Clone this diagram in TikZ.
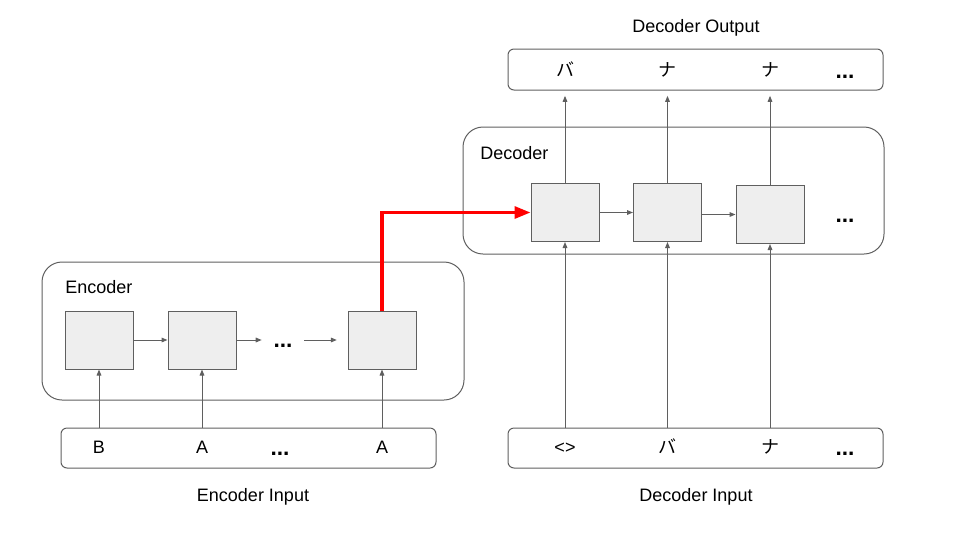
\documentclass[tikz,border=0pt]{standalone}
\usepackage{fontspec}
\setmainfont{Liberation Sans}
\newfontfamily\jp{Noto Sans CJK JP}
\usetikzlibrary{arrows.meta}
\definecolor{lin}{HTML}{5F5F5F}
\definecolor{cellfill}{HTML}{EEEEEE}
\definecolor{redc}{HTML}{FF0000}
\begin{document}
\begin{tikzpicture}[x=0.75pt,y=-0.75pt,
  font=\fontsize{13.5}{15}\selectfont,
  dotsf/.style={font=\fontsize{17}{18}\selectfont\bfseries},
  outer/.style={draw=lin, line width=0.75pt, rounded corners=15pt, minimum width=#1, inner sep=0pt},
  iobox/.style={draw=lin, line width=0.75pt, rounded corners=4.5pt, minimum width=281.25pt, inner sep=0pt},
  cell/.style={draw=lin, fill=cellfill, line width=0.75pt, minimum width=51pt, minimum height=43.5pt, inner sep=0pt},
  lbl/.style={anchor=base, text height=1.6ex, text depth=0.3ex, inner sep=0pt},
  garr/.style={draw=lin, line width=0.75pt, -{Triangle[length=4.5pt,width=3.5pt]}},
  rarr/.style={draw=redc, line width=2.4pt, -{Triangle[length=12pt,width=9pt]}}]
\useasboundingbox (0,0) rectangle (960,540);

% Encoder
\node[outer=316.5pt, minimum height=103.5pt] (enc) at (253,331) {};
\node[anchor=west, inner sep=0pt] (enclbl) at (65,287) {Encoder};
\node[cell] (ec1) at (99,340) {};
\node[cell] (ec2) at (202,340) {};
\node[cell] (ec4) at (382,340) {};
\node[inner sep=0pt, minimum width=31.5pt, dotsf] (edots) at (283,346) {...};
\draw[garr] (ec1.east) -- (ec2.west);
\draw[garr] (ec2.east) -- (ec2.east -| edots.west);
\draw[garr, shorten >=8pt] (ec4.west -| edots.east) -- (ec4.west);

% Encoder input
\node[iobox, minimum height=30pt] (ein) at (248.5,448) {};
\node[lbl] (eb) at (99,453.5) {B};
\node[lbl] (ea1) at (202,453.5) {A};
\node[lbl, dotsf] (edd) at (280,455) {...};
\node[lbl] (ea2) at (382,453.5) {A};
\node (eintitle) at (253,497) {Encoder Input};
\draw[garr] (ein.north -| ec1) -- (ec1.south);
\draw[garr] (ein.north -| ec2) -- (ec2.south);
\draw[garr] (ein.north -| ec4) -- (ec4.south);

% Decoder
\node[outer=315.75pt, minimum height=95.25pt] (dec) at (673.5,190.5) {};
\node[anchor=west, inner sep=0pt] (declbl) at (480,153) {Decoder};
\node[cell] (dc1) at (565,212.5) {};
\node[cell] (dc2) at (667.5,212.5) {};
\node[cell] (dc3) at (770,214.5) {};
\node[lbl, dotsf] (ddots) at (845,222) {...};
\draw[garr] (dc1.east) -- (dc2.west);
\draw[garr] (dc2.east |- dc3.west) -- (dc3.west);

% Decoder output
\node[iobox, minimum height=30.75pt] (dout) at (695.5,69.5) {};
\node[lbl] (o1) at (565,76) {\jp バ};
\node[lbl] (o2) at (667,76) {\jp ナ};
\node[lbl] (o3) at (770,76) {\jp ナ};
\node[lbl, dotsf] (odd) at (845,78) {...};
\node (douttitle) at (696,28) {Decoder Output};
\draw[garr, shorten >=4pt] (dc1.north) -- (dc1.north |- dout.south);
\draw[garr, shorten >=4pt] (dc2.north) -- (dc2.north |- dout.south);
\draw[garr, shorten >=4pt] (dc3.north) -- (dc3.north |- dout.south);

% Decoder input
\node[iobox, minimum height=30pt] (din) at (695.5,448) {};
\node[lbl] (i1) at (565,453.5) {<>};
\node[lbl] (i2) at (667,453.5) {\jp バ};
\node[lbl] (i3) at (770,453.5) {\jp ナ};
\node[lbl, dotsf] (idd) at (845,455) {...};
\node (dintitle) at (696,497) {Decoder Input};
\draw[garr] (din.north -| dc1) -- (dc1.south);
\draw[garr] (din.north -| dc2) -- (dc2.south);
\draw[garr] (din.north -| dc3) -- (dc3.south);

% Context arrow
\draw[rarr] (ec4.north) |- (dc1.west);
\end{tikzpicture}
\end{document}
